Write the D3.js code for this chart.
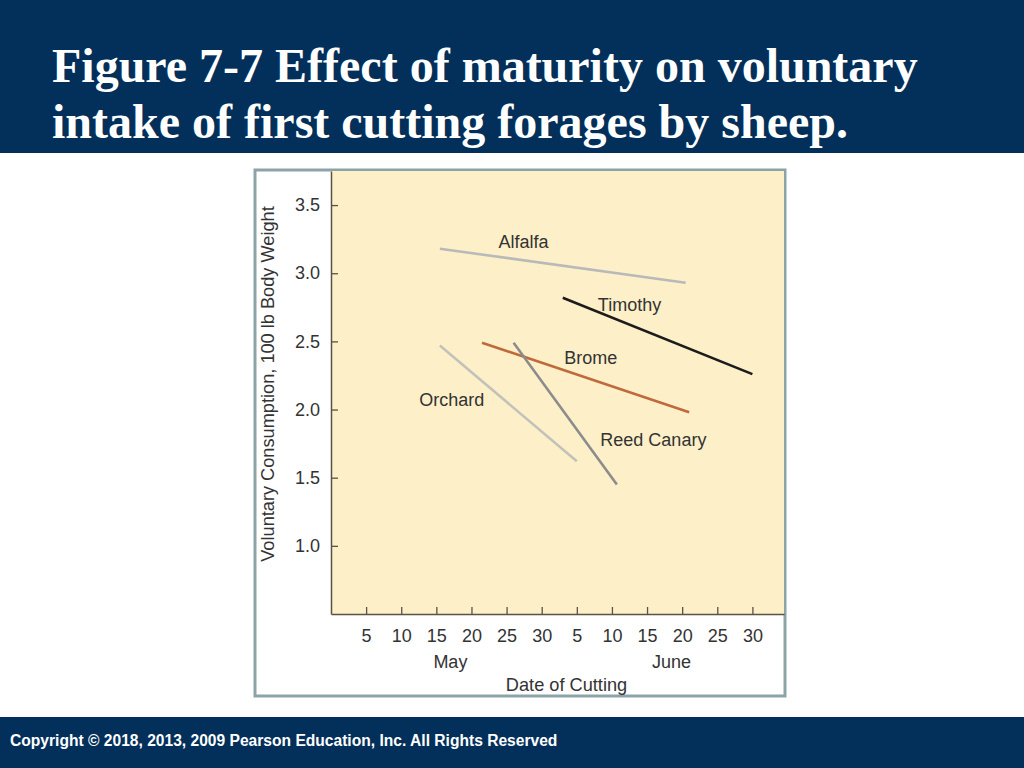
<!DOCTYPE html>
<html>
<head>
<meta charset="utf-8">
<script src="https://cdn.jsdelivr.net/npm/d3@7"></script>
<style>
html,body{margin:0;padding:0;background:#fff;}
svg{display:block;}
</style>
</head>
<body>
<svg id="chart" width="1024" height="768"></svg>
<script>
// ---- data ----
const titleLines = ["Figure 7-7 Effect of maturity on voluntary", "intake of first cutting forages by sheep."];
const footerText = "Copyright \u00a9 2018, 2013, 2009 Pearson Education, Inc. All Rights Reserved";
// x = day index: May d -> d, June d -> 30 + d
const xTicks = [5, 10, 15, 20, 25, 30, 35, 40, 45, 50, 55, 60];
const xTickLabels = ["5", "10", "15", "20", "25", "30", "5", "10", "15", "20", "25", "30"];
const yTicks = [1.0, 1.5, 2.0, 2.5, 3.0, 3.5];
const monthNames = ["May", "June"];
const monthPos = [17, 48.5];
const seriesNames = ["Alfalfa", "Timothy", "Brome", "Reed Canary", "Orchard"];
const alfalfa = [[15.5, 3.18], [50.5, 2.93]];
const timothy = [[33, 2.82], [60, 2.26]];
const brome = [[21.5, 2.49], [51, 1.98]];
const reedCanary = [[26, 2.49], [40.7, 1.45]];
const orchard = [[15.5, 2.47], [35, 1.62]];
const labelPos = [[27.4, 3.23], [42.5, 2.77], [37, 2.38], [45.9, 1.78], [17.2, 2.07]];
const seriesColors = ["#b9b9b9", "#1c1c1c", "#bf6a3c", "#8c8c8c", "#c2c2bb"];

// ---- drawing ----
const svg = d3.select("#chart");
const navy = "#02305a";

// header band
svg.append("rect").attr("x", 0).attr("y", 0).attr("width", 1024).attr("height", 153).attr("fill", navy);
svg.selectAll("text.title").data(titleLines).join("text")
  .attr("class", "title")
  .attr("x", 52).attr("y", (d, i) => 82 + i * 56)
  .attr("font-family", "'Liberation Serif','Times New Roman',serif")
  .attr("font-weight", "bold").attr("font-size", 48)
  .attr("fill", "#fff").text(d => d);

// footer band
svg.append("rect").attr("x", 0).attr("y", 717).attr("width", 1024).attr("height", 51).attr("fill", navy);
svg.append("text").attr("x", 10).attr("y", 746)
  .attr("font-family", "'Liberation Sans',Arial,sans-serif")
  .attr("font-weight", "bold").attr("font-size", 15.6)
  .attr("fill", "#fff").text(footerText);

// figure frame
svg.append("rect").attr("x", 255).attr("y", 170).attr("width", 530).attr("height", 526)
  .attr("fill", "#fff").attr("stroke", "#8ca3a8").attr("stroke-width", 3);

const x = d3.scaleLinear().domain([0, 64.5]).range([331, 784]);
const y = d3.scaleLinear().domain([0.5, 3.75]).range([614, 171]);

// plot background
svg.append("rect").attr("x", x(0)).attr("y", y(3.75)).attr("width", x(64.5) - x(0)).attr("height", y(0.5) - y(3.75))
  .attr("fill", "#fdf0c9");

const font = "'Liberation Sans',Arial,Helvetica,sans-serif";
const textColor = "#333";

// y axis
const yAxis = svg.append("g").attr("transform", `translate(${x(0)},0)`)
  .call(d3.axisRight(y).tickValues(yTicks).tickSize(7).tickFormat(d3.format(".1f")).tickSizeOuter(0));
yAxis.select(".domain").attr("stroke", "#5a5244").attr("stroke-width", 1.5);
yAxis.selectAll(".tick line").attr("stroke", "#5a5244").attr("stroke-width", 1.3);
yAxis.selectAll(".tick text").attr("x", -11).attr("text-anchor", "end")
  .attr("font-family", font).attr("font-size", 18).attr("fill", textColor);

// x axis
const xAxis = svg.append("g").attr("transform", `translate(0,${y(0.5)})`)
  .call(d3.axisTop(x).tickValues(xTicks).tickSize(7).tickFormat((d, i) => xTickLabels[i]).tickSizeOuter(0));
xAxis.select(".domain").attr("stroke", "#5a5244").attr("stroke-width", 1.5);
xAxis.selectAll(".tick line").attr("stroke", "#5a5244").attr("stroke-width", 1.3);
xAxis.selectAll(".tick text").attr("y", 22).attr("dy", "0.32em")
  .attr("font-family", font).attr("font-size", 18).attr("fill", textColor);

// month labels
svg.selectAll("text.month").data(monthNames).join("text")
  .attr("class", "month")
  .attr("x", (d, i) => x(monthPos[i])).attr("y", 668)
  .attr("text-anchor", "middle").attr("font-family", font).attr("font-size", 18).attr("fill", textColor)
  .text(d => d);

// axis titles
svg.append("text").attr("x", (x(0) + x(64.5)) / 2 + 9).attr("y", 691)
  .attr("text-anchor", "middle").attr("font-family", font).attr("font-size", 18.2).attr("fill", textColor)
  .text("Date of Cutting");
svg.append("text").attr("transform", `translate(274,384) rotate(-90)`)
  .attr("text-anchor", "middle").attr("font-family", font).attr("font-size", 18.2).attr("fill", textColor)
  .text("Voluntary Consumption, 100 lb Body Weight");

// lines
const allSeries = [alfalfa, timothy, brome, reedCanary, orchard];
const line = d3.line().x(d => x(d[0])).y(d => y(d[1]));
svg.selectAll("path.series").data(allSeries).join("path")
  .attr("class", "series")
  .attr("d", line).attr("fill", "none")
  .attr("stroke", (d, i) => seriesColors[i]).attr("stroke-width", 2.6);

// series labels
svg.selectAll("text.slabel").data(seriesNames).join("text")
  .attr("class", "slabel")
  .attr("x", (d, i) => x(labelPos[i][0])).attr("y", (d, i) => y(labelPos[i][1]))
  .attr("dy", "0.35em").attr("text-anchor", "middle")
  .attr("font-family", font).attr("font-size", 18).attr("fill", textColor)
  .text(d => d);
</script>
</body>
</html>
